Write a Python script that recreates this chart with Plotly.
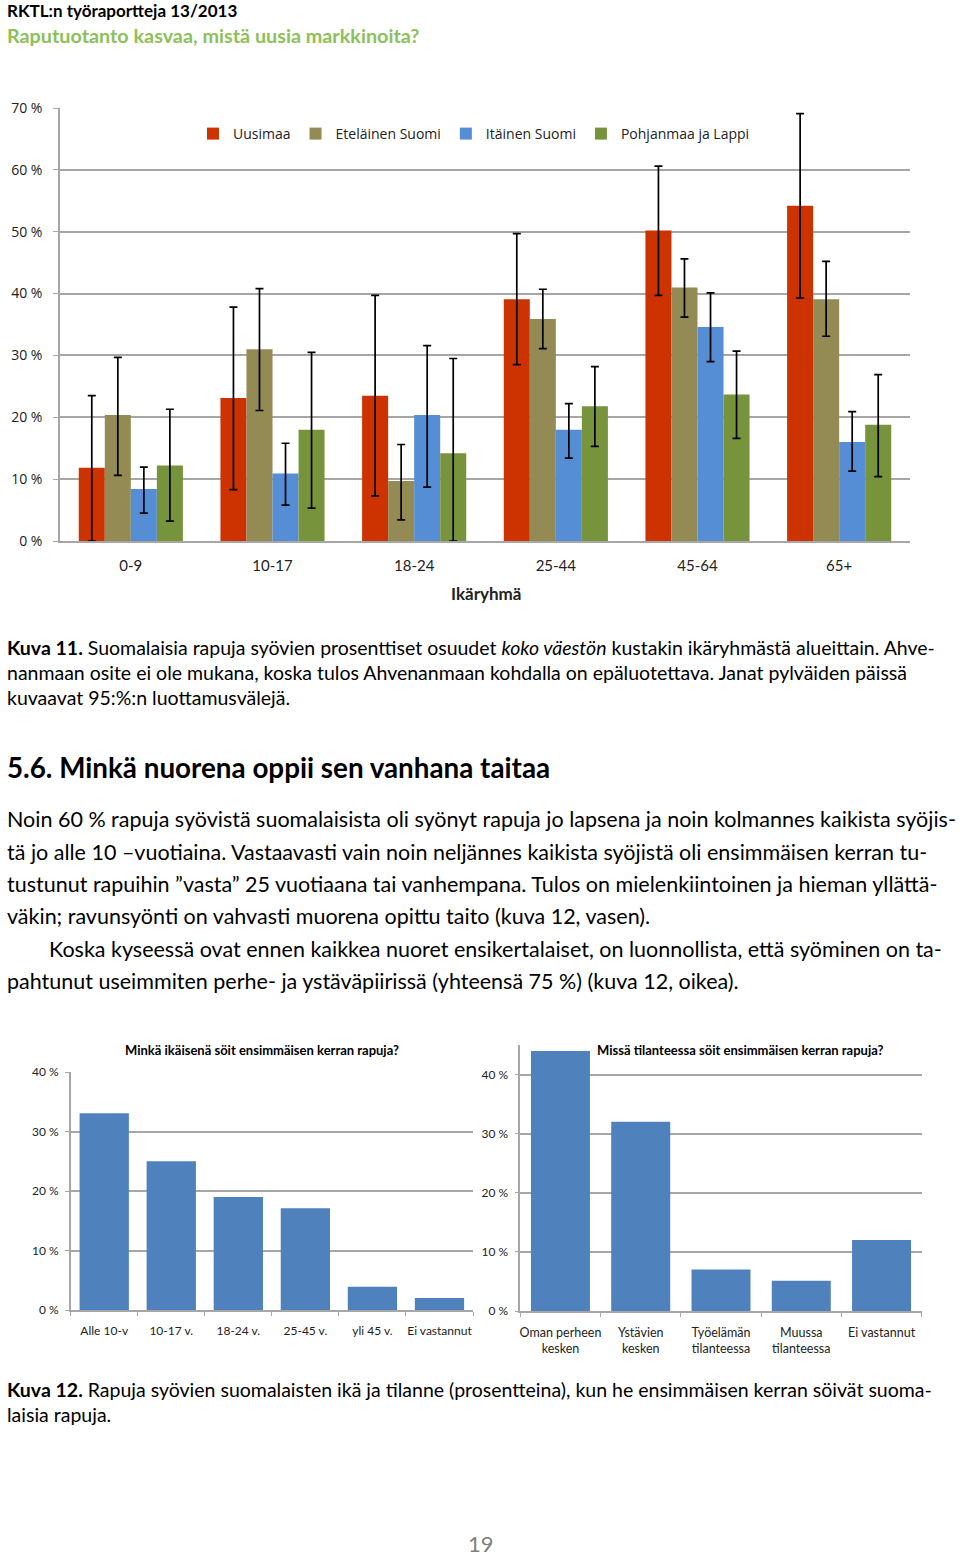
import plotly.graph_objects as go

W, H = 960, 1556

def px(x):
    return x / W

def py(y):
    return 1 - y / H

# ---------------- Data: main chart ----------------
age_groups = ["0-9", "10-17", "18-24", "25-44", "45-64", "65+"]
regions = ["Uusimaa", "Eteläinen Suomi", "Itäinen Suomi", "Pohjanmaa ja Lappi"]
region_colors = ["#CC3300", "#948A54", "#558ED5", "#77933C"]

uusimaa = [11.85, 23.1, 23.5, 39.1, 50.2, 54.2]
uusimaa_hi = [23.5, 37.8, 39.7, 49.7, 60.6, 69.1]
uusimaa_lo = [0.0, 8.3, 7.3, 28.5, 39.7, 39.3]

etelainen = [20.35, 31.0, 9.7, 35.9, 41.0, 39.1]
etelainen_hi = [29.7, 40.8, 15.6, 40.7, 45.6, 45.2]
etelainen_lo = [10.6, 21.1, 3.4, 31.1, 36.2, 33.1]

itainen = [8.4, 10.9, 20.35, 18.0, 34.6, 16.0]
itainen_hi = [11.95, 15.8, 31.6, 22.2, 40.1, 20.9]
itainen_lo = [4.5, 5.8, 8.7, 13.4, 29.0, 11.3]

pohjanmaa = [12.2, 18.0, 14.2, 21.8, 23.7, 18.8]
pohjanmaa_hi = [21.3, 30.5, 29.5, 28.2, 30.7, 26.9]
pohjanmaa_lo = [3.2, 5.3, 0.0, 15.3, 16.6, 10.4]

main_ticks = [0, 10, 20, 30, 40, 50, 60, 70]
small_ticks = [0, 10, 20, 30, 40]

# ---------------- Data: small charts ----------------
age_first = ["Alle 10-v", "10-17 v.", "18-24 v.", "25-45 v.", "yli 45 v.", "Ei vastannut"]
age_first_vals = [33.05, 25.0, 19.0, 17.1, 3.9, 2.0]

situation = ["Oman perheen<br>kesken", "Ystävien<br>kesken", "Työelämän<br>tilanteessa",
             "Muussa<br>tilanteessa", "Ei vastannut"]
situation_vals = [44.0, 32.0, 7.0, 5.1, 12.0]

fig = go.Figure()

series = [
    (uusimaa, uusimaa_hi, uusimaa_lo),
    (etelainen, etelainen_hi, etelainen_lo),
    (itainen, itainen_hi, itainen_lo),
    (pohjanmaa, pohjanmaa_hi, pohjanmaa_lo),
]
for name, color, (vals, hi, lo) in zip(regions, region_colors, series):
    fig.add_trace(go.Bar(
        x=age_groups, y=vals, name=name, marker=dict(color=color, line=dict(width=0)),
        error_y=dict(type="data", symmetric=False,
                     array=[h - v for h, v in zip(hi, vals)],
                     arrayminus=[v - l for v, l in zip(vals, lo)],
                     color="black", thickness=1.7, width=4),
        xaxis="x", yaxis="y",
    ))

fig.add_trace(go.Bar(x=age_first, y=age_first_vals, marker=dict(color="#4F81BD", line=dict(width=0)),
                     showlegend=False, xaxis="x2", yaxis="y2"))
fig.add_trace(go.Bar(x=situation, y=situation_vals, marker=dict(color="#4F81BD", line=dict(width=0)),
                     showlegend=False, xaxis="x3", yaxis="y3"))

grid = "#A6A6A6"
chart_font = "Open Sans"
small_font = "Lato"
pct = [f"{v} %" for v in main_ticks]
pct_small = [f"{v} %" for v in small_ticks]

fig.update_layout(
    width=W, height=H,
    margin=dict(l=0, r=0, t=0, b=0, pad=0, autoexpand=False),
    paper_bgcolor="white", plot_bgcolor="white",
    barmode="group", bargap=0.265, bargroupgap=0,
    showlegend=True,
    legend=dict(orientation="h", x=px(193), y=py(134), xanchor="left", yanchor="middle",
                font=dict(family=chart_font, size=14, color="#222"), bgcolor="rgba(0,0,0,0)",
                traceorder="normal", itemwidth=30),
    xaxis=dict(domain=[px(60), px(910)], anchor="y", showgrid=False, showline=True,
               linecolor=grid, linewidth=1.5, ticks="", ticklabelstandoff=10, tickangle=0,
               automargin=False,
               tickfont=dict(family=small_font, size=15, color="#222"), fixedrange=True),
    yaxis=dict(domain=[py(541), py(108)], anchor="x", range=[0, 70], automargin=False,
               tickvals=main_ticks, ticktext=pct, showgrid=True, gridcolor=grid, gridwidth=1.5,
               showline=True, linecolor=grid, linewidth=1.5, ticks="outside", ticklen=5,
               tickcolor=grid, ticklabelstandoff=8,
               tickfont=dict(family=chart_font, size=14, color="#222"), zeroline=False),
    xaxis2=dict(domain=[px(70.7), px(473)], anchor="y2", showgrid=False, showline=True,
                linecolor=grid, linewidth=1.5, ticks="outside", tickson="boundaries",
                ticklen=4, tickcolor=grid, ticklabelstandoff=9, tickangle=0, automargin=False,
                tickfont=dict(family=small_font, size=12, color="#222")),
    yaxis2=dict(domain=[py(1310), py(1072)], anchor="x2", range=[0, 40], automargin=False,
                tickvals=small_ticks, ticktext=pct_small, showgrid=True, gridcolor=grid,
                gridwidth=1.5, showline=True, linecolor=grid, linewidth=1.5, ticks="outside",
                ticklen=4, tickcolor=grid, ticklabelstandoff=4,
                tickfont=dict(family=small_font, size=12, color="#222"), zeroline=False),
    xaxis3=dict(domain=[px(520.3), px(921.7)], anchor="y3", showgrid=False, showline=True,
                linecolor=grid, linewidth=1.5, ticks="outside", tickson="boundaries",
                ticklen=4, tickcolor=grid, ticklabelstandoff=9, tickangle=0, automargin=False,
                tickfont=dict(family=small_font, size=12.5, color="#222")),
    yaxis3=dict(domain=[py(1311), py(1045)], anchor="x3", range=[0, 45], automargin=False,
                tickvals=small_ticks, ticktext=pct_small, showgrid=True, gridcolor=grid,
                gridwidth=1.5, showline=True, linecolor=grid, linewidth=1.5, ticks="outside",
                ticklen=4, tickcolor=grid, ticklabelstandoff=4,
                tickfont=dict(family=small_font, size=12, color="#222"), zeroline=False),
)

ann = []

def text(x, y, s, size, color="black", family="Lato", anchor="left"):
    ann.append(dict(x=px(x), y=py(y), xref="paper", yref="paper", text=s, showarrow=False,
                    xanchor=anchor, yanchor="middle", align=anchor,
                    font=dict(family=family, size=size, color=color)))

text(5, 10, "<b>RKTL:n työraportteja 13/2013</b>", 17)
text(5, 35, "<b>Raputuotanto kasvaa, mistä uusia markkinoita?</b>", 19.8, color="#8DC05A")

text(486, 593, "<b>Ikäryhmä</b>", 17, color="#222", anchor="center")

cap11 = [
    "<b>Kuva 11.</b> Suomalaisia rapuja syövien prosenttiset osuudet <i>koko väestön</i> kustakin ikäryhmästä alueittain. Ahve-",
    "nanmaan osite ei ole mukana, koska tulos Ahvenanmaan kohdalla on epäluotettava. Janat pylväiden päissä",
    "kuvaavat 95:%:n luottamusvälejä.",
]
for line, y in zip(cap11, [647, 672, 698]):
    text(5, y, line, 19.5)

text(5, 767, "<b>5.6. Minkä nuorena oppii sen vanhana taitaa</b>", 27.8)

para = [
    (5, "Noin 60 % rapuja syövistä suomalaisista oli syönyt rapuja jo lapsena ja noin kolmannes kaikista syöjis-"),
    (5, "tä jo alle 10 –vuotiaina. Vastaavasti vain noin neljännes kaikista syöjistä oli ensimmäisen kerran tu-"),
    (5, "tustunut rapuihin ”vasta” 25 vuotiaana tai vanhempana. Tulos on mielenkiintoinen ja hieman yllättä-"),
    (5, "väkin; ravunsyönti on vahvasti muorena opittu taito (kuva 12, vasen)."),
    (47, "Koska kyseessä ovat ennen kaikkea nuoret ensikertalaiset, on luonnollista, että syöminen on ta-"),
    (5, "pahtunut useimmiten perhe- ja ystäväpiirissä (yhteensä 75 %) (kuva 12, oikea)."),
]
for (x, line), y in zip(para, [819, 852, 884, 916, 949, 981]):
    text(x, y, line, 21.5)

text(262, 1050, "<b>Minkä ikäisenä söit ensimmäisen kerran rapuja?</b>", 13, anchor="center")
text(740, 1050, "<b>Missä tilanteessa söit ensimmäisen kerran rapuja?</b>", 13, anchor="center")

text(5, 1389, "<b>Kuva 12.</b> Rapuja syövien suomalaisten ikä ja tilanne (prosentteina), kun he ensimmäisen kerran söivät suoma-", 19.5)
text(5, 1414, "laisia rapuja.", 19.5)

text(481, 1543, "19", 22, color="#808080", anchor="center")

fig.update_layout(annotations=ann)
fig.write_html(
    "out.html",
    config={"displayModeBar": False},
    post_script=(
        "document.body.style.margin='0';document.body.style.padding='0';"
        "document.body.style.overflow='hidden';document.documentElement.style.overflow='hidden';"
    ),
)
